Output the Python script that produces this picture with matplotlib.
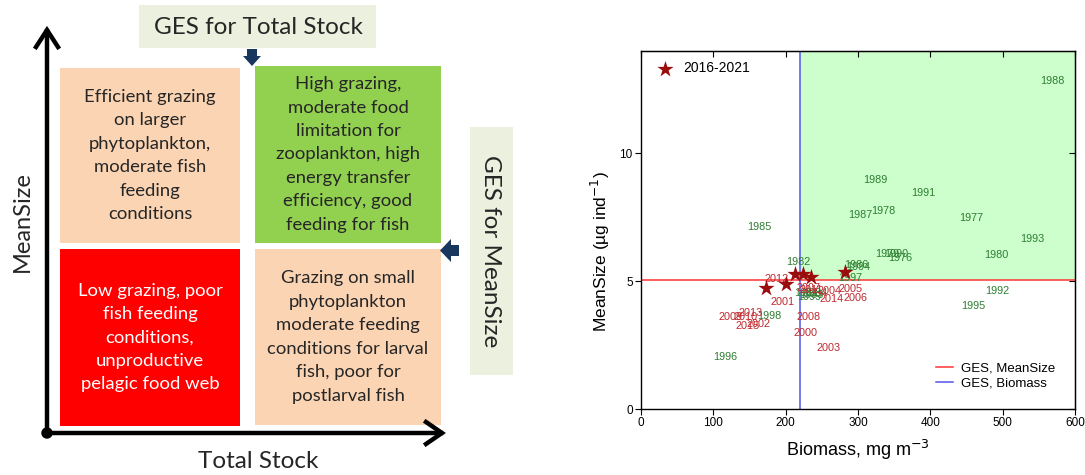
import matplotlib
matplotlib.use("Agg")
import matplotlib.pyplot as plt
from matplotlib.patches import Rectangle, Polygon, Circle
from matplotlib.lines import Line2D

# ---- data: year labels (position = Biomass, MeanSize) ----
green_years = [1976, 1977, 1978, 1979, 1980, 1981, 1982, 1983, 1984, 1985, 1986, 1987,
               1988, 1989, 1990, 1991, 1992, 1993, 1994, 1995, 1996, 1997, 1998, 1999]
green_biomass = [358, 456, 335, 341, 491, 228, 217, 236, 241, 163, 297, 303,
                 568, 324, 353, 390, 492, 541, 300, 460, 116, 289, 178, 232]
green_size = [5.90, 7.46, 7.73, 6.05, 6.02, 4.53, 5.74, 4.45, 4.53, 7.11, 5.62, 7.58,
              12.81, 8.95, 6.05, 8.44, 4.61, 6.64, 5.55, 4.02, 2.03, 5.12, 3.63, 4.38]

red_years = [2000, 2001, 2002, 2003, 2004, 2005, 2006, 2007,
             2008, 2009, 2010, 2011, 2012, 2013, 2014, 2015]
red_biomass = [227, 196, 162, 259, 261, 290, 297, 231,
               231, 124, 144, 236, 188, 152, 263, 147]
red_size = [2.97, 4.18, 3.32, 2.38, 4.61, 4.69, 4.34, 4.73,
            3.59, 3.59, 3.59, 4.65, 5.08, 3.75, 4.30, 3.24]

recent_biomass = [173, 200, 213, 224, 235, 282]   # 2016-2021
recent_size = [4.73, 4.88, 5.27, 5.27, 5.16, 5.35]

ges_size = 5.05
ges_biomass = 220

# ---- conceptual diagram texts ----
box_texts = {
    "ul": "Efficient grazing\non larger\nphytoplankton,\nmoderate fish\nfeeding\nconditions",
    "ur": "High grazing,\nmoderate food\nlimitation for\nzooplankton, high\nenergy transfer\nefficiency, good\nfeeding for fish",
    "ll": "Low grazing, poor\nfish feeding\nconditions,\nunproductive\npelagic food web",
    "lr": "Grazing on small\nphytoplankton\nmoderate feeding\nconditions for larval\nfish, poor for\npostlarval fish",
}

W, H = 1085, 475
fig = plt.figure(figsize=(W / 100, H / 100), dpi=100)

# left: diagram drawn in pixel coordinates
ax0 = fig.add_axes([0, 0, 1, 1])
ax0.set_xlim(0, W)
ax0.set_ylim(H, 0)
ax0.axis("off")

peach = "#FBD4B4"
dia_font = ["Lato", "DejaVu Sans"]
tc = "#262626"

boxes = [((60, 68, 180, 175), peach, "ul", tc),
         ((255, 66, 186, 177), "#92D050", "ur", tc),
         ((60, 249, 180, 177), "#FF0000", "ll", "white"),
         ((255, 249, 186, 176), peach, "lr", tc)]
for (x, y, w, h), col, key, txtc in boxes:
    ax0.add_patch(Rectangle((x, y), w, h, facecolor=col, edgecolor="none"))
    ax0.text(x + w / 2, y + h / 2, box_texts[key], ha="center", va="center",
             fontsize=13.3, linespacing=1.57, color=txtc, family=dia_font)

# GES labels
ax0.add_patch(Rectangle((139, 5), 237, 43, facecolor="#EBF1DE", edgecolor="none"))
ax0.text(258, 27, "GES for Total Stock", ha="center", va="center", fontsize=17.5,
         color=tc, family=dia_font)
ax0.add_patch(Rectangle((470, 127), 43, 248, facecolor="#EBF1DE", edgecolor="none"))
ax0.text(491, 251, "GES for MeanSize", ha="center", va="center", fontsize=17.5,
         rotation=270, color=tc, family=dia_font)

navy = "#17375E"
ax0.add_patch(Polygon([(247, 49), (257, 49), (257, 56), (261, 56), (252, 66),
                       (243, 56), (247, 56)], closed=True, facecolor=navy))
ax0.add_patch(Polygon([(459, 245), (459, 256), (451, 256), (451, 262), (440, 250.5),
                       (451, 239), (451, 245)], closed=True, facecolor=navy))

# axes of the diagram
lw = 3.2
ax0.add_line(Line2D([47, 47], [433, 31], color="black", lw=lw))
ax0.add_line(Line2D([36, 47, 58], [47, 30, 47], color="black", lw=lw, solid_joinstyle="miter"))
ax0.add_line(Line2D([47, 441], [433, 433], color="black", lw=lw))
ax0.add_line(Line2D([426, 442, 426], [422, 433, 444], color="black", lw=lw, solid_joinstyle="miter"))
ax0.add_patch(Circle((47, 433), 5, color="black"))
ax0.text(22, 222, "MeanSize", rotation=90, ha="center", va="center", fontsize=17,
         color=tc, family=dia_font)
ax0.text(258, 461, "Total Stock", ha="center", va="center", fontsize=17.5,
         color=tc, family=dia_font)

# right: scatter chart
ax = fig.add_axes([641 / W, 1 - 409 / H, 434 / W, 358 / H])
arial = "Liberation Sans"
ax.set_xlim(0, 600)
ax.set_ylim(0, 14)
ax.axvspan(ges_biomass, 600, ymin=ges_size / 14, ymax=1, facecolor="#CCFFCC", edgecolor="none", zorder=0)
ax.axhline(ges_size, color="#FF3333", lw=1.1, zorder=1)
ax.axvline(ges_biomass, color="#5555EE", lw=1.1, zorder=1)

for yr, bx, sz in zip(green_years, green_biomass, green_size):
    ax.text(bx, sz, str(yr), color="#2E7D32", fontsize=7.8, ha="center", va="center",
            family=arial, zorder=2)
for yr, bx, sz in zip(red_years, red_biomass, red_size):
    ax.text(bx, sz, str(yr), color="#C0282E", fontsize=7.8, ha="center", va="center",
            family=arial, zorder=2)
stars = ax.scatter(recent_biomass, recent_size, marker="*", s=150, color="#9B0D0D",
                   zorder=3, label="2016-2021", linewidths=0)

ax.set_xticks([0, 100, 200, 300, 400, 500, 600])
ax.set_yticks([0, 5, 10])
ax.tick_params(direction="out", length=4, labelsize=8.5, pad=2)
for lab in ax.get_xticklabels() + ax.get_yticklabels():
    lab.set_family(arial)
sx = ax.secondary_xaxis("top")
sx.set_xticks([0, 100, 200, 300, 400, 500, 600])
sx.tick_params(direction="in", length=4, labeltop=False)
sy = ax.secondary_yaxis("right")
sy.set_yticks([0, 5, 10])
sy.tick_params(direction="in", length=4, labelright=False)
for s in list(ax.spines.values()):
    s.set_linewidth(1.0)

ax.set_xlabel("Biomass, mg m$^{-3}$", fontsize=13, family=arial, labelpad=6)
ax.set_ylabel("MeanSize (\u00b5g ind$^{-1}$)", fontsize=12.5, family=arial)
ax.yaxis.set_label_coords(-0.067, 0.44)

leg1 = ax.legend(handles=[stars], loc="upper left", frameon=False,
                 handletextpad=0.3, borderaxespad=0.35, prop={"family": arial, "size": 10})
ax.add_artist(leg1)
h_lines = [Line2D([], [], color="#FF3333", lw=1.1), Line2D([], [], color="#5555EE", lw=1.1)]
ax.legend(h_lines, ["GES, MeanSize", "GES, Biomass"], loc="lower right", frameon=False,
          handlelength=1.3, handletextpad=0.6, labelspacing=0.2, borderaxespad=1.1,
          prop={"family": arial, "size": 9.5})

fig.savefig("out.png", dpi=100)
